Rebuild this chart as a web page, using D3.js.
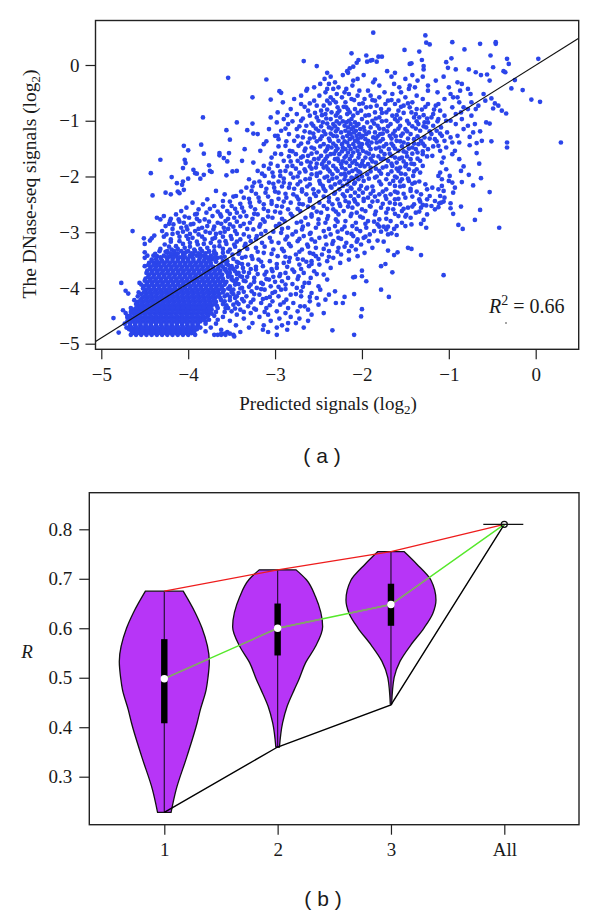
<!DOCTYPE html>
<html>
<head>
<meta charset="utf-8">
<script src="https://cdnjs.cloudflare.com/ajax/libs/d3/7.8.5/d3.min.js"></script>
<style>
body { margin: 0; background: #fff; }
svg { display: block; }
text { font-family: "Liberation Serif", serif; fill: #1a1a1a; }
</style>
</head>
<body>
<svg width="600" height="916"></svg>
<script>
var scatterOutliers = [[-2.67,.07],[-2.52,-.02],[-3.54,-.23],[-3.10,-.26],[-2.63,-.43],[-2.95,-.47],[-2.93,-.50],[-3.26,-.58],[-3.05,-.62],[-3.83,-.94],[-3.44,-1.03],[-3.26,-1.05],[-3.56,-1.17],[-3.32,-1.17],[-3.25,-1.23],[-3.20,-1.24],[-3.52,-1.34],[-3.00,-1.27],[-2.97,-1.27],[-3.10,-1.37],[-4.05,-1.45],[-3.85,-1.43],[-4.0,-1.53],[-3.82,-1.59],[-3.64,-1.58],[-3.64,-1.62],[-3.53,-1.58],[-3.35,-1.51],[-4.32,-1.70],[-4.04,-1.70],[-4.03,-1.76],[-3.59,-1.67],[-3.55,-1.73],[-3.38,-1.72],[-4.43,-1.94],[-3.76,-1.80],[-4.06,-1.85],[-3.94,-1.88],[-3.92,-1.94],[-3.90,-1.95],[-4.19,-2.01],[-3.82,-1.97],[-3.75,-1.90],[-3.73,-1.92],[-3.56,-1.98],[-3.49,-1.91],[-3.44,-1.90],[-4.0,-2.04],[-3.86,-2.04],[-4.13,-2.12],[-4.06,-2.09],[-4.07,-2.15],[-4.41,-2.34],[-4.26,-2.29],[-4.20,-2.32],[-4.12,-2.27],[-4.10,-2.30],[-4.05,-2.24],
[-1.87,.58],[-1.27,.53],[-1.26,.40],[-1.22,.37],[-.96,.41],[-.64,.38],[-.46,.41],[-.46,.38],[-.82,.28],[-1.51,.27],[-1.34,.24],[-2.12,.21],[-1.95,.17],[-1.81,.15],[-1.77,.15],[-1.83,.06],[-.52,.17],[-.33,.11],[-.31,.02],[.03,.11],[-.97,.12],[-1.03,.05],[-1.01,-.05],[-.92,-.08],[-.77,-.08],[-.69,-.13],[-.63,-.18],[-.56,-.17],[-.49,-.04],[-.37,-.11],[-.35,-.13],[-1.31,.09],[-1.29,-.02],[-1.29,-.08],[-1.45,.02],[-1.43,.03],[-1.71,-.11],[-1.85,-.26],[-2.04,.09],[-2.06,.04],[-2.10,-.03],[-2.14,-.06],[-2.17,-.11],[-1.94,.06],[-1.90,.08],[-1.88,.09],[-1.06,-.21],[-.53,-.28],[-.24,-.27],[-.28,-.42],[-.15,-.45],[-.05,-.62],[.05,-.66],[.29,-1.39],[-.34,-.87],[-.39,-.82],[-.43,-.73],[-.47,-.69],[-.49,-.78],[-.51,-.60],[-.57,-1.03],[-.53,-1.05],[-.64,-1.19],[-.62,-1.36],[-.51,-1.37],[-.33,-1.39],[-.33,-1.48],[-.68,-1.40],[-.76,-1.29],[-.76,-1.44],[-.68,-1.58],[-.65,-1.77],[-.53,-2.28],[-.63,-2.03],[-.72,-2.16],[-.77,-1.97],[-.85,-2.10],[-.83,-1.82],[-.86,-1.90],[-.64,-2.60],
[-.70,-2.78],[-.89,-2.87],[-.84,-2.94],[-.42,-2.92],[-.95,-2.67],[-1.06,-3.77],[-1.32,-3.41],[-1.47,-3.28],[-1.43,-3.30],[-1.59,-3.36],[-1.63,-3.41],[-1.70,-3.33],[-1.65,-3.72],[-1.73,-3.57],[-1.78,-3.61],[-1.78,-4.03],[-1.69,-4.16],[-2.0,-4.38],[-2.01,-4.51],[-2.09,-4.84],[-2.09,-4.11],[-2.2,-4.16],[-2.22,-4.27],[-1.95,-3.88],[-2.0,-3.79],[-2.0,-3.69],[-2.08,-3.80],[-2.1,-3.81],[-1.5,-2.89],[-1.49,-2.69],[-1.32,-2.85],[-1.29,-2.78],[-1.26,-2.92],[-1.30,-2.51],[-1.26,-2.52],[-1.12,-2.55],[-1.11,-2.48],[-1.06,-2.45],[-.98,-2.48],[-.98,-2.57],[-.86,-2.54],[-1.60,-3.05],[-1.66,-3.02],[-1.70,-3.04],[-1.82,-3.15],[-1.75,-3.17],[-1.80,-2.90],[-1.75,-2.90],[-1.63,-2.94],
[-4.64,-2.98],[-4.77,-3.91],[-4.86,-4.54],[-4.80,-4.80],[-3.48,-4.84],[-3.47,-4.87],[-2.98,-4.84],[-2.34,-4.76],[-4.51,-3.11],[-4.50,-3.21],[-4.44,-3.15],[-4.39,-3.06],[-4.42,-3.11],[-4.50,-3.36],[-4.47,-3.42],[-4.50,-3.46],[-4.40,-3.42],[-4.72,-4.05],[-4.69,-4.10],[-4.75,-4.40],[-4.72,-4.45],[-4.70,-4.50]];

// the rest of the cloud, read as thin horizontal strips [observed, predicted values in that strip]
var scatterBands = [
[-.14,[-2.40,-2.16,-1.62]],[-.18,[-2.22,-1.98,-1.42]],[-.21,[-2.36,-1.30,-1.66]],[-.25,[-2.43,-2.05,-1.50]],[-.28,[-2.10,-1.36,-1.15]],[-.31,[-2.31,-1.87,-.90]],
[-.34,[-2.48,-2.38,-1.63,-.85]],[-.37,[-2.11,-1.80,-1.45,-1.24]],[-.40,[-2.55,-2.27,-1.57,-1.39,-1.00]],[-.43,[-2.40,-2.33,-2.18,-1.46,-.78]],[-.46,[-2.64,-2.03,-1.93,-1.24,-.87]],[-.49,[-2.42,-2.20,-1.74,-1.55,-1.13]],[-.52,[-2.29,-2.15,-1.65,-.98,-.75,-.60]],
[-.55,[-2.70,-2.49,-2.05,-1.90,-1.37]],[-.58,[-2.36,-2.23,-1.80,-1.50,-.95,-.90]],[-.61,[-2.78,-2.12,-1.97,-1.30,-1.05]],[-.64,[-2.55,-2.40,-1.85,-1.70,-1.58,-.58]],[-.67,[-2.91,-2.30,-2.19,-1.42,-.88,-.74]],[-.70,[-2.70,-2.03,-1.73,-1.62,-1.24,-1.12]],[-.73,[-2.52,-2.44,-1.83,-1.52,-1.15,-.66]],[-.76,[-2.28,-2.18,-1.95,-1.45,-.96,-.83]],[-.79,[-2.82,-2.08,-1.78,-1.37,-.78,-.69]],
[-.82,[-2.62,-2.47,-2.26,-2.01,-1.58,-1.10]],[-.85,[-2.97,-2.35,-2.14,-1.85,-1.72,-1.43,-.86]],[-.88,[-2.75,-2.42,-2.17,-1.38,-1.18,-.92]],[-.91,[-2.60,-2.30,-2.10,-1.96,-1.65,-1.05,-.74]],[-.94,[-3.05,-2.52,-2.25,-1.80,-1.40,-1.34,-1.20]],[-.97,[-2.90,-2.36,-2.12,-2.00,-1.62,-1.12,-.85]],[-1.00,[-2.70,-2.50,-2.15,-1.88,-1.72,-1.48,-1.03,-.98]],[-1.03,[-2.98,-2.45,-2.18,-2.08,-1.94,-1.28,-1.24]],[-1.06,[-2.85,-2.33,-2.13,-2.04,-1.67,-1.35,-.92,-.70]],
[-1.09,[-2.64,-2.56,-2.20,-2.06,-1.82,-1.56,-1.18,-.78]],[-1.12,[-2.38,-2.16,-2.10,-1.98,-1.90,-1.26,-1.09]],[-1.15,[-3.07,-2.75,-2.28,-2.12,-2.02,-1.75,-1.50,-.83]],[-1.18,[-2.93,-2.50,-2.19,-2.07,-1.97,-1.62,-1.33,-1.14]],[-1.21,[-2.60,-2.24,-2.15,-2.09,-1.92,-1.85,-1.02,-.72]],[-1.24,[-2.84,-2.42,-2.13,-2.03,-1.95,-1.79,-1.44,-1.20]],[-1.27,[-2.33,-2.17,-2.06,-1.99,-1.68,-1.55,-1.08,-.90]],[-1.30,[-2.68,-2.55,-2.22,-2.11,-2.01,-1.87,-1.28,-.98]],[-1.33,[-2.96,-2.48,-2.14,-2.05,-1.96,-1.76,-1.40,-1.16]],[-1.36,[-2.78,-2.37,-2.27,-2.08,-1.93,-1.60,-1.32,-1.05]],
[-1.39,[-2.62,-2.17,-2.04,-1.89,-1.83,-1.52,-.96,-.88]],[-1.42,[-3.13,-2.44,-2.23,-2.10,-2.00,-1.72,-1.47,-1.35]],[-1.45,[-2.88,-2.73,-2.30,-2.15,-1.92,-1.64,-1.28,-1.12]],[-1.48,[-2.58,-2.35,-2.22,-2.08,-2.01,-1.80,-1.42,-1.03]],[-1.51,[-2.40,-2.19,-2.13,-1.90,-1.69,-1.38,-1.24]],[-1.54,[-3.17,-2.83,-2.66,-2.30,-2.05,-1.99,-1.58,-1.10,-.93]],[-1.57,[-2.52,-2.16,-2.10,-1.95,-1.49,-1.36]],[-1.60,[-2.93,-2.76,-2.36,-2.26,-2.03,-1.74,-1.30,-.96]],[-1.63,[-2.62,-2.47,-2.18,-2.12,-1.87,-1.66,-1.19]],[-1.66,[-3.04,-2.70,-2.20,-2.04,-1.96,-1.62,-1.54,-1.06]],
[-1.69,[-2.55,-2.42,-2.31,-2.14,-1.78,-1.44,-.88]],[-1.72,[-2.90,-2.74,-2.27,-2.08,-1.99,-1.70,-1.33]],[-1.75,[-3.25,-2.59,-2.38,-2.18,-2.11,-1.84,-1.60,-1.08]],[-1.78,[-2.46,-2.24,-2.06,-1.93,-1.49,-1.40]],[-1.81,[-3.13,-2.97,-2.80,-2.33,-2.14,-2.02,-1.65,-1.30]],[-1.84,[-2.53,-2.44,-2.23,-1.90,-1.76,-1.56]],[-1.87,[-2.66,-2.39,-2.19,-2.07,-1.46,-1.37,-1.03]],[-1.90,[-3.20,-2.88,-2.28,-2.11,-1.80,-1.58]],[-1.93,[-3.03,-2.72,-2.48,-2.15,-2.02,-1.33,-1.10]],
[-1.96,[-2.58,-2.34,-2.24,-1.94,-1.70,-1.50]],[-1.99,[-3.12,-2.94,-2.52,-2.19,-2.06,-1.41,-1.12,-.99]],[-2.02,[-2.79,-2.43,-2.29,-2.12,-1.85,-1.60]],[-2.05,[-3.30,-2.65,-2.20,-2.04,-1.72,-1.54,-1.08]],[-2.08,[-2.49,-2.38,-2.15,-1.98,-1.64,-1.46,-1.00]],[-2.11,[-3.24,-3.07,-2.90,-2.26,-2.08,-1.39,-.96]],[-2.14,[-2.74,-2.60,-2.31,-2.17,-1.78,-1.27]],[-2.17,[-3.16,-2.45,-2.22,-2.01,-1.62,-1.52,-1.08]],[-2.20,[-3.33,-3.01,-2.84,-2.35,-2.13,-1.94,-1.19,-.93]],[-2.23,[-2.69,-2.56,-2.26,-2.03,-1.72,-1.25,-1.12]],
[-2.26,[-3.68,-3.27,-2.42,-2.17,-1.87,-1.44,-1.06]],[-2.29,[-3.11,-2.96,-2.31,-2.08,-1.99,-1.59,-.95]],[-2.32,[-3.58,-2.79,-2.64,-2.22,-1.80,-1.67,-1.32]],[-2.35,[-3.45,-2.53,-2.13,-2.04,-1.73,-1.22,-1.10]],[-2.38,[-3.36,-3.19,-2.87,-2.38,-1.93,-1.50,-1.05]],[-2.41,[-3.78,-2.73,-2.28,-2.09,-1.62,-1.34,-1.25]],[-2.44,[-3.60,-3.04,-2.60,-2.19,-1.98,-1.82,-1.16]],[-2.47,[-3.95,-3.29,-2.82,-2.49,-2.15,-1.68,-1.09]],[-2.50,[-3.83,-3.13,-2.68,-2.34,-2.05,-1.56,-1.40]],
[-2.53,[-3.70,-3.50,-2.98,-2.44,-2.25,-1.91,-1.20]],[-2.56,[-4.02,-3.38,-2.56,-2.11,-1.78,-1.47,-1.32]],[-2.59,[-3.88,-3.23,-2.85,-2.33,-2.00,-1.64,-1.16]],[-2.62,[-4.08,-3.55,-3.08,-2.71,-2.21,-1.96,-1.54]],[-2.65,[-3.79,-3.44,-2.94,-2.47,-2.06,-1.72,-1.38]],[-2.68,[-4.14,-3.92,-3.63,-3.20,-2.58,-2.27,-1.85,-1.25]],[-2.71,[-4.28,-3.72,-3.33,-2.80,-2.39,-2.13,-1.58]],[-2.74,[-4.36,-3.99,-3.47,-3.03,-2.65,-1.99,-1.44]],[-2.77,[-4.32,-4.11,-3.81,-3.14,-2.50,-2.30,-1.80]],[-2.80,[-4.21,-3.87,-3.57,-2.89,-2.19,-1.93,-1.67]],
[-2.83,[-4.05,-3.66,-3.29,-2.75,-2.42,-2.07,-1.54]],[-2.86,[-4.17,-3.97,-3.52,-3.17,-2.62,-1.82,-1.43]],[-2.89,[-4.26,-3.78,-3.40,-2.99,-2.31,-2.11,-1.60]],[-2.92,[-4.08,-3.84,-3.59,-2.85,-2.53,-1.95]],[-2.95,[-4.01,-3.71,-3.25,-2.69,-2.23,-1.72]],[-2.98,[-4.30,-3.92,-3.46,-3.11,-2.44,-2.02,-1.86]],[-3.01,[-4.12,-3.75,-3.63,-2.93,-2.59,-2.17]],[-3.04,[-4.25,-3.88,-3.36,-2.80,-2.36,-1.91]],[-3.07,[-4.02,-3.51,-3.21,-2.67,-2.10]],[-3.10,[-3.95,-3.69,-3.06,-2.49,-2.27,-1.98]],
[-3.13,[-4.20,-3.81,-3.40,-2.88,-2.58,-2.05]],[-3.16,[-4.10,-3.57,-3.28,-2.74,-2.33,-1.92]],[-3.19,[-3.98,-3.74,-3.15,-2.96,-2.18]],[-3.22,[-4.27,-3.89,-3.47,-2.63,-2.41,-2.01]],[-3.25,[-4.14,-3.64,-3.35,-2.82,-2.12]],[-3.28,[-4.04,-3.78,-3.22,-2.53,-2.27,-1.88]],[-3.31,[-4.19,-3.93,-3.52,-3.02,-2.69,-2.07]],[-3.34,[-4.33,-3.70,-3.41,-2.90,-2.38,-2.15]],[-3.37,[-4.24,-4.06,-3.60,-3.13,-2.60,-1.97]],[-3.40,[-3.86,-3.49,-2.76,-2.46,-2.24]],
[-3.43,[-4.36,-3.97,-3.27,-2.97,-2.53,-2.05]],[-3.46,[-4.12,-3.66,-3.38,-2.83,-2.33]],[-3.49,[-4.42,-3.76,-3.19,-2.68,-2.15]],[-3.52,[-4.30,-3.55,-3.06,-2.58,-2.40]],[-3.55,[-4.37,-3.42,-2.90,-2.25]],[-3.58,[-3.63,-3.31,-2.72,-2.49]],[-3.61,[-4.50,-3.50,-3.14,-2.61]],[-3.64,[-3.37,-2.98,-2.36]],[-3.67,[-3.58,-3.22,-2.80]],[-3.70,[-3.46,-3.03,-2.55]],
[-3.73,[-3.30,-2.88,-2.67]],[-3.76,[-3.54,-3.12,-2.44]],[-3.79,[-3.40,-2.95,-2.73]],[-3.82,[-3.24,-2.85,-2.59]],[-3.85,[-3.50,-3.07,-2.40]],[-3.88,[-3.34,-2.92]],[-3.91,[-4.56,-3.45,-3.16,-2.66,-2.61]],[-3.94,[-3.28,-2.88]],[-3.97,[-3.52,-3.05,-2.50]],[-4.00,[-3.38,-3.21,-2.75]],
[-4.03,[-3.48,-3.12,-2.93,-2.48]],[-4.06,[-3.27,-2.70,-2.31]],[-4.09,[-3.42,-3.03,-2.58]],[-4.12,[-3.55,-3.18,-2.82,-2.38]],[-4.15,[-3.33,-2.96,-2.70]],[-4.18,[-3.46,-3.10,-2.52]],[-4.21,[-3.25,-2.87,-2.42]],[-4.24,[-3.58,-3.36,-3.03,-2.60]],[-4.27,[-3.16,-2.79,-2.30]],[-4.30,[-3.48,-2.94,-2.50]],
[-4.33,[-3.31,-2.71,-2.66]],[-4.36,[-3.57,-3.10,-2.85]],[-4.39,[-3.40,-3.22,-2.62]],[-4.42,[-3.50,-2.98,-2.74]],[-4.45,[-3.28,-2.88,-2.44]],[-4.48,[-3.44,-3.08,-2.58]],[-4.52,[-3.60,-3.18,-2.82]],[-4.55,[-3.36,-2.95,-2.72]],[-4.59,[-3.52,-3.05,-2.62]],[-4.63,[-3.26,-2.85,-2.76]],
[-4.67,[-3.45,-3.13,-2.92]],[-4.71,[-3.30,-2.98,-2.67]],[-4.75,[-3.62,-3.14,-2.86]],[-4.79,[-3.55,-3.40,-3.08]],[-4.82,[-3.62,-3.58,-3.52]]
];

// second pass over the busy middle of the cloud [observed, predicted values]
var scatterFill = [
[-.63,[-2.33,-2.09,-1.88,-1.66]],[-.69,[-2.60,-2.37,-1.99,-1.47]],[-.75,[-2.66,-2.21,-1.90,-1.55,-1.27]],[-.80,[-2.40,-2.16,-1.69,-1.31,-1.17]],[-.86,[-2.54,-2.28,-2.05,-1.77,-1.52]],[-.90,[-2.86,-2.46,-1.92,-1.60,-1.29]],[-.96,[-2.68,-2.41,-1.84,-1.56,-1.25]],
[-1.01,[-2.80,-2.29,-2.22,-1.77,-1.59,-1.37,-1.13]],[-1.05,[-2.58,-2.40,-2.26,-1.86,-1.46]],[-1.10,[-2.72,-2.47,-2.31,-1.70,-1.42,-1.29]],[-1.14,[-2.88,-2.53,-2.35,-1.80,-1.58,-1.38]],[-1.19,[-2.66,-2.44,-2.30,-1.71,-1.48,-1.22]],[-1.23,[-2.56,-2.36,-1.76,-1.64,-1.53,-1.10]],[-1.28,[-2.74,-2.46,-2.29,-1.82,-1.61,-1.36]],[-1.32,[-2.60,-2.38,-1.84,-1.66,-1.47,-1.22]],[-1.37,[-2.87,-2.52,-2.20,-1.79,-1.56,-1.14]],[-1.41,[-2.70,-2.33,-1.94,-1.66,-1.40,-1.30]],
[-1.46,[-2.96,-2.48,-2.39,-2.03,-1.75,-1.54,-1.18]],[-1.50,[-2.65,-2.55,-2.28,-1.84,-1.62,-1.46]],[-1.55,[-2.80,-2.42,-2.23,-1.78,-1.52,-1.30]],[-1.59,[-3.00,-2.58,-2.32,-1.92,-1.68,-1.42]],[-1.64,[-2.84,-2.68,-2.40,-1.81,-1.48,-1.25]],[-1.68,[-2.50,-2.28,-1.90,-1.75,-1.57,-1.36]],[-1.73,[-2.82,-2.63,-2.44,-2.22,-1.88,-1.52]],[-1.77,[-3.05,-2.70,-2.52,-2.00,-1.66,-1.43]],[-1.82,[-2.86,-2.60,-2.41,-1.97,-1.72,-1.50]],[-1.86,[-3.07,-2.76,-2.58,-2.30,-1.84,-1.60]],
[-1.91,[-2.94,-2.65,-2.37,-2.04,-1.90,-1.66,-1.40]],[-1.95,[-3.15,-2.82,-2.52,-2.20,-1.78,-1.55]],[-2.00,[-3.02,-2.74,-2.40,-2.00,-1.83,-1.62]],[-2.04,[-2.90,-2.60,-2.34,-2.10,-1.92,-1.47]],[-2.09,[-3.18,-2.96,-2.71,-2.25,-1.80,-1.56,-1.34]],[-2.13,[-3.02,-2.83,-2.48,-2.09,-1.68,-1.42]],[-2.18,[-3.26,-2.92,-2.63,-2.36,-1.88,-1.56]],[-2.22,[-3.10,-2.78,-2.44,-2.12,-1.95,-1.44]],[-2.27,[-3.39,-3.00,-2.69,-2.50,-1.76,-1.62,-1.37]],[-2.31,[-3.22,-2.88,-2.55,-2.32,-1.90,-1.52]],
[-2.36,[-3.48,-3.08,-2.75,-2.44,-2.20,-1.85,-1.42]],[-2.40,[-3.30,-2.96,-2.60,-1.98,-1.72,-1.58]],[-2.45,[-3.52,-3.18,-2.90,-2.38,-2.08,-1.88,-1.33]],[-2.49,[-3.40,-3.04,-2.72,-2.26,-1.76,-1.62]],[-2.54,[-3.60,-3.28,-2.92,-2.62,-2.16,-1.90,-1.42]],[-2.58,[-3.75,-3.46,-3.13,-2.74,-2.40,-1.70,-1.52]],[-2.63,[-3.66,-3.36,-3.00,-2.52,-2.30,-1.84,-1.34]],[-2.67,[-3.90,-3.52,-3.24,-2.82,-2.12,-1.62]],[-2.72,[-4.04,-3.62,-3.40,-3.08,-2.58,-2.02,-1.50]],[-2.76,[-4.20,-3.90,-3.54,-3.26,-2.92,-2.40,-1.72]],
[-2.81,[-4.10,-3.76,-3.44,-3.12,-2.70,-2.28,-1.86]],[-2.85,[-4.22,-3.94,-3.62,-3.36,-2.95,-2.50,-1.96]],[-2.90,[-4.02,-3.70,-3.48,-3.18,-2.68,-2.20,-1.70]],[-2.94,[-4.18,-3.88,-3.54,-3.32,-2.92,-2.38,-2.06]],[-2.99,[-4.06,-3.80,-3.58,-3.02,-2.76,-2.28,-1.78]],[-3.03,[-4.18,-3.98,-3.68,-3.44,-3.16,-2.60,-2.12]],[-3.08,[-4.28,-4.10,-3.84,-3.60,-3.30,-2.86,-2.42,-1.96]],[-3.12,[-4.00,-3.72,-3.50,-3.22,-2.72,-2.24]],[-3.17,[-4.20,-3.90,-3.64,-3.44,-3.04,-2.54,-2.06]],[-3.21,[-4.06,-3.82,-3.56,-3.34,-2.84,-2.34]],
[-3.26,[-4.22,-3.98,-3.70,-3.46,-3.12,-2.62,-2.20]],[-3.30,[-4.32,-4.12,-3.86,-3.60,-3.32,-2.92,-2.44]],[-3.35,[-4.26,-4.02,-3.76,-3.54,-3.20,-2.72,-2.28]],[-3.39,[-4.38,-4.16,-3.94,-3.68,-3.42,-3.04,-2.56]],[-3.44,[-4.22,-3.80,-3.58,-3.34,-2.88,-2.38]],[-3.48,[-3.72,-3.48,-3.26,-2.74,-2.50]],[-3.53,[-3.68,-3.44,-3.16,-2.84,-2.64]],[-3.57,[-3.56,-3.38,-2.98,-2.58]],[-3.62,[-3.60,-3.44,-3.22,-2.86]],[-3.66,[-3.52,-3.28,-3.04,-2.70]],
[-3.71,[-3.56,-3.36,-3.10,-2.78]],[-3.75,[-3.44,-3.20,-2.94,-2.52]],[-3.80,[-3.54,-3.32,-3.02]],[-3.84,[-3.44,-3.10,-2.74]],[-3.89,[-3.56,-3.24,-3.00]],[-3.93,[-3.42,-3.14,-2.80]],[-3.98,[-3.30,-2.96,-2.68]],[-4.02,[-3.52,-3.16,-2.88]],[-4.07,[-3.36,-3.00]],[-4.11,[-3.48,-3.24,-2.76]],
[-4.16,[-3.52,-3.06,-2.60]],[-4.20,[-3.38,-3.14]],[-4.26,[-3.44,-3.28,-2.90]],[-4.31,[-3.56,-3.06]],[-4.37,[-3.46,-3.24]],[-4.43,[-3.36,-3.12]]
];

// solid core of the cloud, strips packed tight [observed, predicted values]
var scatterCore = [
[-3.34,[-4.24,-4.16,-4.08,-4.00,-3.92,-3.84,-3.76]],
[-3.42,[-4.28,-4.20,-4.14,-4.06,-3.98,-3.90,-3.82,-3.74]],
[-3.48,[-4.37,-4.31,-4.24,-4.18,-4.12,-4.06,-4.00,-3.94,-3.87,-3.81,-3.75]],
[-3.55,[-4.45,-4.39,-4.33,-4.27,-4.21,-4.15,-4.09,-4.03,-3.97,-3.91,-3.85,-3.79,-3.74]],
[-3.62,[-4.43,-4.37,-4.31,-4.25,-4.19,-4.13,-4.07,-4.01,-3.95,-3.89,-3.83,-3.77,-3.71,-3.65]],
[-3.69,[-4.47,-4.41,-4.35,-4.29,-4.23,-4.17,-4.11,-4.05,-3.99,-3.93,-3.87,-3.81,-3.75,-3.69,-3.63]],
[-3.76,[-4.45,-4.39,-4.33,-4.27,-4.21,-4.15,-4.09,-4.03,-3.97,-3.91,-3.85,-3.79,-3.73,-3.67,-3.61]],
[-3.83,[-4.49,-4.43,-4.37,-4.31,-4.25,-4.19,-4.13,-4.07,-4.01,-3.95,-3.89,-3.83,-3.77,-3.71,-3.65,-3.60]],
[-3.90,[-4.47,-4.41,-4.35,-4.29,-4.23,-4.17,-4.11,-4.05,-3.99,-3.93,-3.87,-3.81,-3.75,-3.69,-3.63,-3.57]],
[-3.97,[-4.51,-4.45,-4.39,-4.33,-4.27,-4.21,-4.15,-4.09,-4.03,-3.97,-3.91,-3.85,-3.79,-3.73,-3.67,-3.61]],
[-4.04,[-4.49,-4.43,-4.37,-4.31,-4.25,-4.19,-4.13,-4.07,-4.01,-3.95,-3.89,-3.83,-3.77,-3.71,-3.65,-3.59]],
[-4.11,[-4.54,-4.48,-4.42,-4.36,-4.30,-4.24,-4.18,-4.12,-4.06,-4.00,-3.94,-3.88,-3.82,-3.76,-3.70,-3.64]],
[-4.18,[-4.53,-4.47,-4.41,-4.35,-4.29,-4.23,-4.17,-4.11,-4.05,-3.99,-3.93,-3.87,-3.81,-3.75,-3.69,-3.63]],
[-4.25,[-4.58,-4.52,-4.46,-4.40,-4.34,-4.28,-4.22,-4.16,-4.10,-4.04,-3.98,-3.92,-3.86,-3.80,-3.74,-3.68]],
[-4.32,[-4.57,-4.51,-4.45,-4.39,-4.33,-4.27,-4.21,-4.15,-4.09,-4.03,-3.97,-3.91,-3.85,-3.79,-3.73,-3.67]],
[-4.39,[-4.63,-4.57,-4.51,-4.45,-4.39,-4.33,-4.27,-4.21,-4.15,-4.09,-4.03,-3.97,-3.91,-3.85,-3.79,-3.73]],
[-4.46,[-4.63,-4.57,-4.51,-4.45,-4.39,-4.33,-4.27,-4.21,-4.15,-4.09,-4.03,-3.97,-3.91,-3.85,-3.79,-3.73]],
[-4.53,[-4.70,-4.64,-4.58,-4.52,-4.46,-4.40,-4.34,-4.28,-4.22,-4.16,-4.10,-4.04,-3.98,-3.92,-3.86,-3.80]],
[-4.60,[-4.70,-4.64,-4.58,-4.52,-4.46,-4.40,-4.34,-4.28,-4.22,-4.16,-4.10,-4.04,-3.98,-3.92,-3.86,-3.80]],
[-4.67,[-4.67,-4.61,-4.55,-4.49,-4.43,-4.37,-4.31,-4.25,-4.19,-4.13,-4.07,-4.01,-3.95,-3.89]],
[-4.74,[-4.68,-4.62,-4.56,-4.50,-4.44,-4.38,-4.32,-4.26,-4.20,-4.14,-4.08,-4.02,-3.96,-3.90]],
[-4.81,[-4.62,-4.56,-4.50,-4.44,-4.38,-4.32,-4.26,-4.20,-4.14,-4.08,-4.02,-3.96]],
[-4.84,[-4.66,-4.60,-4.54,-4.48,-4.42,-4.36,-4.30,-4.24,-4.18,-4.12,-4.06,-4.00,-3.92,-3.70,-3.66,-3.62,-3.57]]
];

// gaps left in the core, and its soft right and left edges [observed, predicted values]
var scatterCoreGaps = [
[-3.38,[-4.20,-4.12,-4.04,-3.96,-3.88,-3.80,-3.70]],
[-3.45,[-4.32,-4.25,-4.17,-4.10,-4.03,-3.95,-3.86,-3.78,-3.70,-3.62]],
[-3.52,[-4.42,-4.36,-4.30,-4.24,-4.18,-4.12,-4.06,-4.00,-3.94,-3.88,-3.82,-3.76,-3.68,-3.60]],
[-3.59,[-4.46,-4.40,-4.34,-4.28,-4.22,-4.16,-4.10,-4.04,-3.98,-3.92,-3.86,-3.80,-3.74,-3.62,-3.54]],
[-3.66,[-4.44,-4.38,-4.32,-4.26,-4.20,-4.14,-4.08,-4.02,-3.96,-3.90,-3.84,-3.78,-3.72,-3.66,-3.57,-3.48]],
[-3.73,[-4.48,-4.42,-4.36,-4.30,-4.24,-4.18,-4.12,-4.06,-4.00,-3.94,-3.88,-3.82,-3.76,-3.70,-3.64,-3.52,-3.42]],
[-3.80,[-4.46,-4.40,-4.34,-4.28,-4.22,-4.16,-4.10,-4.04,-3.98,-3.92,-3.86,-3.80,-3.74,-3.68,-3.62,-3.50,-3.38]],
[-3.87,[-4.50,-4.44,-4.38,-4.32,-4.26,-4.20,-4.14,-4.08,-4.02,-3.96,-3.90,-3.84,-3.78,-3.72,-3.66,-3.60,-3.48,-3.36]],
[-3.94,[-4.54,-4.48,-4.42,-4.36,-4.30,-4.24,-4.18,-4.12,-4.06,-4.00,-3.94,-3.88,-3.82,-3.76,-3.70,-3.64,-3.58,-3.46]],
[-4.01,[-4.52,-4.46,-4.40,-4.34,-4.28,-4.22,-4.16,-4.10,-4.04,-3.98,-3.92,-3.86,-3.80,-3.74,-3.68,-3.62,-3.54,-3.40]],
[-4.08,[-4.57,-4.51,-4.45,-4.39,-4.33,-4.27,-4.21,-4.15,-4.09,-4.03,-3.97,-3.91,-3.85,-3.79,-3.73,-3.67,-3.60,-3.50]],
[-4.15,[-4.58,-4.50,-4.44,-4.38,-4.32,-4.26,-4.20,-4.14,-4.08,-4.02,-3.96,-3.90,-3.84,-3.78,-3.72,-3.66,-3.58,-3.44]],
[-4.22,[-4.62,-4.55,-4.49,-4.43,-4.37,-4.31,-4.25,-4.19,-4.13,-4.07,-4.01,-3.95,-3.89,-3.83,-3.77,-3.71,-3.62,-3.52]],
[-4.29,[-4.60,-4.54,-4.48,-4.42,-4.36,-4.30,-4.24,-4.18,-4.12,-4.06,-4.00,-3.94,-3.88,-3.82,-3.76,-3.70,-3.60,-3.42]],
[-4.36,[-4.66,-4.60,-4.54,-4.48,-4.42,-4.36,-4.30,-4.24,-4.18,-4.12,-4.06,-4.00,-3.94,-3.88,-3.82,-3.76,-3.66,-3.54]],
[-4.43,[-4.66,-4.60,-4.54,-4.48,-4.42,-4.36,-4.30,-4.24,-4.18,-4.12,-4.06,-4.00,-3.94,-3.88,-3.82,-3.76,-3.68,-3.58]],
[-4.50,[-4.67,-4.61,-4.55,-4.49,-4.43,-4.37,-4.31,-4.25,-4.19,-4.13,-4.07,-4.01,-3.95,-3.89,-3.83,-3.77,-3.70]],
[-4.57,[-4.67,-4.61,-4.55,-4.49,-4.43,-4.37,-4.31,-4.25,-4.19,-4.13,-4.07,-4.01,-3.95,-3.89,-3.83,-3.76,-3.66]],
[-4.64,[-4.73,-4.67,-4.61,-4.55,-4.49,-4.43,-4.37,-4.31,-4.25,-4.19,-4.13,-4.07,-4.01,-3.95,-3.89,-3.80,-3.68]],
[-4.71,[-4.71,-4.65,-4.59,-4.53,-4.47,-4.41,-4.35,-4.29,-4.23,-4.17,-4.11,-4.05,-3.99,-3.93,-3.86,-3.74]],
[-4.78,[-4.65,-4.59,-4.53,-4.47,-4.41,-4.35,-4.29,-4.23,-4.17,-4.11,-4.05,-3.99,-3.93,-3.80]]
];

var fitLineX = [-5.066, 0.495];
var fitLineY = [-4.96, 0.48];
var xTicksA = [-5, -4, -3, -2, -1, 0];
var yTicksA = [-5, -4, -3, -2, -1, 0];

// panel b
var groupLabels = ["1", "2", "3", "All"];
var violin1Value = [.675,.631,.6,.533,.5,.476,.435,.409,.34,.273,.228];
var violin1Density = [.42,.69,.84,1,.97,.93,.80,.73,.50,.26,.15];
var violin2Value = [.718,.698,.664,.603,.563,.53,.496,.476,.442,.409,.36];
var violin2Density = [.41,.64,.84,1,.84,.62,.47,.37,.21,.11,.04];
var violin3Value = [.755,.73,.697,.657,.63,.6,.566,.533,.5,.447];
var violin3Density = [.29,.57,.89,1,.93,.73,.44,.20,.07,.015];
var q1 = [.408, .545, .605];
var q3 = [.578, .65, .69];
var maxR = [.675, .718, .755, .81];
var medianR = [.498, .6, .648, .81];
var minR = [.228, .36, .445, .81];
var yTicksB = [.3, .4, .5, .6, .7, .8];

var svg = d3.select("svg");

/* ---------- panel a ---------- */
var xA = d3.scaleLinear().domain([-5, 0]).range([101.3, 535.7]);
var yA = d3.scaleLinear().domain([-5, 0]).range([343.7, 65]);

var points = scatterOutliers.slice();
scatterBands.concat(scatterFill, scatterCore, scatterCoreGaps).forEach(function(band) {
  band[1].forEach(function(p) { points.push([p, band[0]]); });
});

var a = svg.append("g");
a.append("g").selectAll("circle")
  .data(points)
  .enter().append("circle")
  .attr("cx", function(d) { return xA(d[0]); })
  .attr("cy", function(d) { return yA(d[1]); })
  .attr("r", 2.35)
  .attr("fill", "#2b45ea");

a.append("line")
  .attr("x1", xA(fitLineX[0])).attr("y1", yA(fitLineY[0]))
  .attr("x2", xA(fitLineX[1])).attr("y2", yA(fitLineY[1]))
  .attr("stroke", "#111").attr("stroke-width", 1.2);

function frame(g, x0, y0, x1, y1) {
  g.append("rect")
    .attr("x", x0).attr("y", y0)
    .attr("width", x1 - x0).attr("height", y1 - y0)
    .attr("fill", "none").attr("stroke", "#222").attr("stroke-width", 1.4);
}

function styleAxis(g) {
  g.select(".domain").remove();
  g.selectAll("line").attr("stroke", "#222").attr("stroke-width", 1.2);
  g.selectAll("text")
    .style("font-family", "'Liberation Serif', serif")
    .style("font-size", "19px")
    .attr("fill", "#1a1a1a");
}

frame(a, 95.5, 20.5, 578.7, 349.3);

a.append("g").attr("transform", "translate(0,349.3)")
  .call(d3.axisBottom(xA).tickValues(xTicksA).tickSize(10).tickPadding(8).tickFormat(d3.format("d")))
  .call(styleAxis);
a.append("g").attr("transform", "translate(95.5,0)")
  .call(d3.axisLeft(yA).tickValues(yTicksA).tickSize(10).tickPadding(6).tickFormat(d3.format("d")))
  .call(styleAxis);

function logLabel(sel, label) {
  sel.append("tspan").text(label + " (log");
  sel.append("tspan").attr("dy", 4).style("font-size", "13px").text("2");
  sel.append("tspan").attr("dy", -4).text(")");
}

a.append("text")
  .attr("x", 328).attr("y", 410)
  .attr("text-anchor", "middle")
  .style("font-size", "19px")
  .call(logLabel, "Predicted signals");

a.append("text")
  .attr("transform", "translate(36,184) rotate(-90)")
  .attr("text-anchor", "middle")
  .style("font-size", "19.5px")
  .call(logLabel, "The DNase-seq signals");

var r2 = a.append("text").attr("x", 489).attr("y", 313).style("font-size", "20px");
r2.append("tspan").style("font-style", "italic").text("R");
r2.append("tspan").attr("dy", -8).style("font-size", "14px").text("2");
r2.append("tspan").attr("dy", 8).text(" = 0.66");

a.append("circle").attr("cx", 506).attr("cy", 323).attr("r", 0.8).attr("fill", "#333");

svg.append("text")
  .attr("x", 322).attr("y", 463)
  .attr("text-anchor", "middle")
  .style("font-family", "'Liberation Sans', sans-serif")
  .style("font-size", "21px")
  .text("( a )");

/* ---------- panel b ---------- */
var xB = d3.scaleLinear().domain([1, 4]).range([164.3, 504.3]);
var yB = d3.scaleLinear().domain([.3, .8]).range([776.7, 529.3]);
var halfWidth = d3.scaleLinear().domain([0, 1]).range([0, 45]);

var b = svg.append("g");

var violins = [
  { value: violin1Value, density: violin1Density },
  { value: violin2Value, density: violin2Density },
  { value: violin3Value, density: violin3Density }
];

function violinPath(v, i) {
  var pos = i + 1;
  return d3.area()
    .y(function(d, j) { return yB(v.value[j]); })
    .x0(function(d, j) { return xB(pos) - halfWidth(v.density[j]); })
    .x1(function(d, j) { return xB(pos) + halfWidth(v.density[j]); })
    .curve(d3.curveMonotoneY)(v.value);
}

b.append("g").selectAll("path")
  .data(violins)
  .enter().append("path")
  .attr("d", violinPath)
  .attr("fill", "#b735f7")
  .attr("stroke", "#111")
  .attr("stroke-width", 1.3);

// whisker running through each violin
b.append("g").selectAll("line")
  .data(d3.range(3))
  .enter().append("line")
  .attr("x1", function(i) { return xB(i + 1); })
  .attr("x2", function(i) { return xB(i + 1); })
  .attr("y1", function(i) { return yB(minR[i]); })
  .attr("y2", function(i) { return yB(maxR[i]); })
  .attr("stroke", "#2a1038").attr("stroke-width", 1.2);

b.append("g").selectAll("rect")
  .data(d3.range(3))
  .enter().append("rect")
  .attr("x", function(i) { return xB(i + 1) - 3.2; })
  .attr("width", 6.4)
  .attr("y", function(i) { return yB(q3[i]); })
  .attr("height", function(i) { return yB(q1[i]) - yB(q3[i]); })
  .attr("fill", "#000");

var connect = d3.line()
  .x(function(d, i) { return xB(i + 1); })
  .y(function(d) { return yB(d); });

b.append("path").attr("d", connect(maxR)).attr("fill", "none").attr("stroke", "#ee1c1c").attr("stroke-width", 1.3);
b.append("path").attr("d", connect(minR)).attr("fill", "none").attr("stroke", "#000").attr("stroke-width", 1.4);
b.append("path").attr("d", connect(medianR)).attr("fill", "none").attr("stroke", "#55e82a").attr("stroke-width", 1.4);

// the green line turns grey where it crosses the violins
var clip = svg.append("clipPath").attr("id", "violinClip");
clip.selectAll("path").data(violins).enter().append("path").attr("d", violinPath);
b.append("path").attr("d", connect(medianR))
  .attr("clip-path", "url(#violinClip)")
  .attr("fill", "none").attr("stroke", "#8c9a72").attr("stroke-width", 1.4);

b.append("g").selectAll("circle")
  .data(d3.range(3))
  .enter().append("circle")
  .attr("cx", function(i) { return xB(i + 1); })
  .attr("cy", function(i) { return yB(medianR[i]); })
  .attr("r", 3.7)
  .attr("fill", "#fff");

// "All" has a single value
b.append("line")
  .attr("x1", xB(4) - 21).attr("x2", xB(4) + 19)
  .attr("y1", yB(maxR[3])).attr("y2", yB(maxR[3]))
  .attr("stroke", "#111").attr("stroke-width", 1.3);
b.append("circle")
  .attr("cx", xB(4)).attr("cy", yB(maxR[3])).attr("r", 3)
  .attr("fill", "none").attr("stroke", "#111").attr("stroke-width", 1.3);

frame(b, 89.3, 492.7, 579, 824.7);

b.append("g").attr("transform", "translate(0,824.7)")
  .call(d3.axisBottom(xB).tickValues([1, 2, 3, 4]).tickSize(10).tickPadding(8)
    .tickFormat(function(d) { return groupLabels[d - 1]; }))
  .call(styleAxis);
b.append("g").attr("transform", "translate(89.3,0)")
  .call(d3.axisLeft(yB).tickValues(yTicksB).tickSize(10).tickPadding(7).tickFormat(d3.format(".1f")))
  .call(styleAxis);

b.append("text")
  .attr("x", 27).attr("y", 658)
  .attr("text-anchor", "middle")
  .style("font-style", "italic")
  .style("font-size", "19px")
  .text("R");

svg.append("text")
  .attr("x", 323).attr("y", 906)
  .attr("text-anchor", "middle")
  .style("font-family", "'Liberation Sans', sans-serif")
  .style("font-size", "21px")
  .text("( b )");
</script>
</body>
</html>
